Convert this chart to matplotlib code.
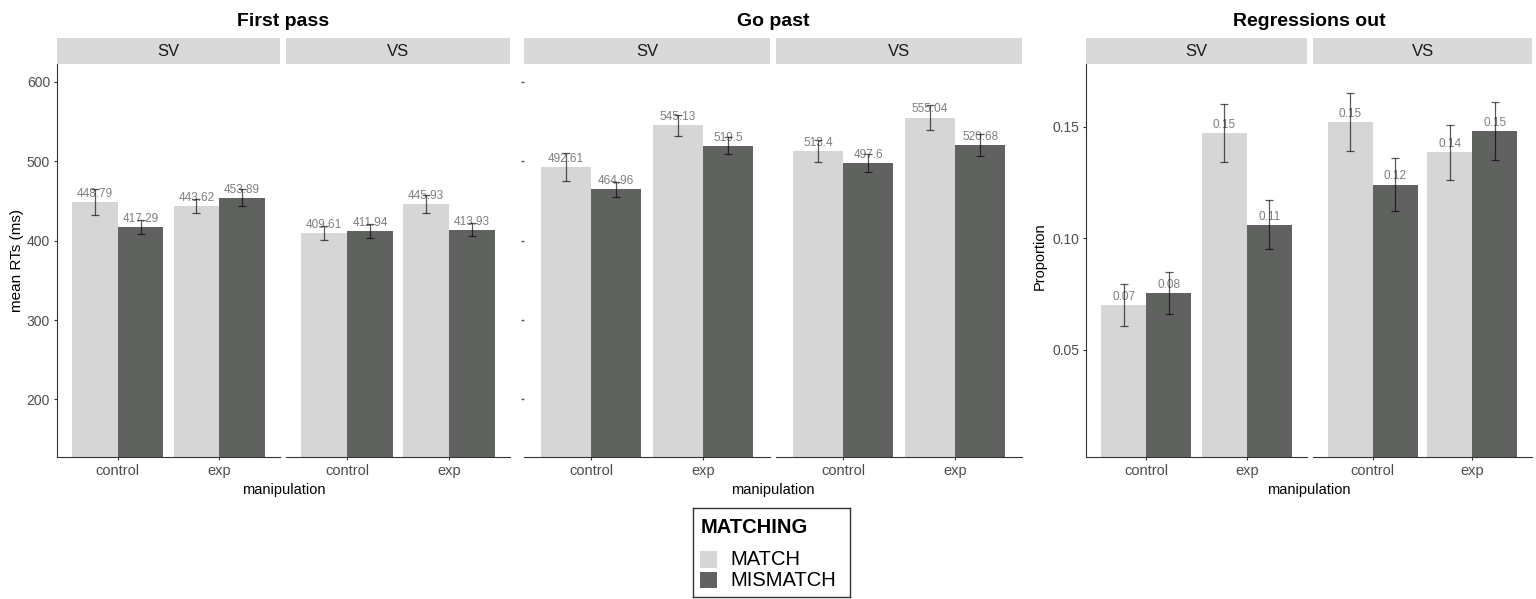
import matplotlib
matplotlib.use("Agg")
import matplotlib.pyplot as plt
from matplotlib.patches import Rectangle

plt.rcParams['font.family'] = ['Liberation Sans', 'DejaVu Sans']

manipulation = ['control', 'exp']
orders = ['SV', 'VS']
matching = ['MATCH', 'MISMATCH']

# means per order: [control, exp]
fp_match = {'SV': [448.79, 443.62], 'VS': [409.61, 445.93]}
fp_mismatch = {'SV': [417.29, 453.89], 'VS': [411.94, 413.93]}
fp_match_se = {'SV': [16.3, 9.0], 'VS': [9.0, 11.5]}
fp_mismatch_se = {'SV': [8.3, 10.7], 'VS': [8.8, 8.5]}

gp_match = {'SV': [492.61, 545.13], 'VS': [513.4, 555.04]}
gp_mismatch = {'SV': [464.96, 519.5], 'VS': [497.6, 520.68]}
gp_match_se = {'SV': [17.4, 13.0], 'VS': [13.8, 16.0]}
gp_mismatch_se = {'SV': [9.4, 10.5], 'VS': [11.5, 14.0]}

ro_match = {'SV': [0.0702, 0.147], 'VS': [0.152, 0.1384]}
ro_mismatch = {'SV': [0.0754, 0.106], 'VS': [0.124, 0.148]}
ro_match_se = {'SV': [0.0094, 0.0129], 'VS': [0.013, 0.0124]}
ro_mismatch_se = {'SV': [0.0095, 0.011], 'VS': [0.012, 0.0129]}

col_match = '#d6d6d6'
col_mismatch = '#606260'
axis_col = '#333333'
tick_text = '#4d4d4d'

W, H = 1536, 599
fig = plt.figure(figsize=(W / 100, H / 100), dpi=100)


def px_rect(x0, x1, y0, y1):
    return [x0 / W, 1 - y1 / H, (x1 - x0) / W, (y1 - y0) / H]


def draw_panel(x0, x1, order, match, mismatch, match_se, mismatch_se,
               ylim, yticks, ylabels, spine, fmt):
    ax = fig.add_axes(px_rect(x0, x1, 64, 457))
    xs = range(len(manipulation))
    w = 0.45
    for vals, ses, col, off in [(match[order], match_se[order], col_match, -w / 2),
                                (mismatch[order], mismatch_se[order], col_mismatch, w / 2)]:
        pos = [x + off for x in xs]
        ax.bar(pos, vals, width=w, color=col, zorder=1)
        ax.errorbar(pos, vals, yerr=ses, fmt='none', ecolor=(0, 0, 0, 0.65),
                    elinewidth=0.9, capsize=3.2, capthick=0.9, zorder=3)
        for p, v in zip(pos, vals):
            ax.annotate(fmt(v), (p, v), xytext=(0, 1.5), textcoords='offset points',
                        ha='center', va='bottom', fontsize=8.5, color='#7f7f7f', zorder=2)
    ax.set_xlim(-0.6, 1.6)
    ax.set_ylim(*ylim)
    ax.set_xticks(list(xs))
    ax.set_xticklabels(manipulation, fontsize=10.5, color=tick_text)
    ax.tick_params(axis='x', length=2.5, width=0.8, color=axis_col, pad=2.5)
    for s in ['top', 'right']:
        ax.spines[s].set_visible(False)
    ax.spines['bottom'].set_color(axis_col)
    ax.spines['left'].set_color(axis_col)
    ax.spines['left'].set_visible(spine == 'full')
    if spine == 'full':
        ax.set_yticks(yticks)
        ax.set_yticklabels(ylabels, fontsize=10, color=tick_text)
        ax.tick_params(axis='y', length=2.5, width=0.8, color=axis_col, pad=2.5)
    elif spine == 'ticks':
        ax.set_yticks(yticks)
        ax.set_yticklabels([])
        ax.tick_params(axis='y', length=2, width=1, color='#555555', pad=1)
    else:
        ax.set_yticks([])
    # strip
    sax = fig.add_axes(px_rect(x0, x1, 38, 64))
    sax.set_facecolor('#d9d9d9')
    sax.set_xticks([])
    sax.set_yticks([])
    for s in sax.spines.values():
        s.set_visible(False)
    sax.text(0.5, 0.5, order, ha='center', va='center', fontsize=12,
             color='#1a1a1a', transform=sax.transAxes)
    return ax


rt_lim = (127.5, 622.5)
rt_ticks = [200, 300, 400, 500, 600]
rt_labels = [str(t) for t in rt_ticks]
pr_lim = (0.002, 0.178)
pr_ticks = [0.05, 0.10, 0.15]
pr_labels = ['0.05', '0.10', '0.15']

fmt_rt = lambda v: ('%.2f' % v).rstrip('0').rstrip('.')
fmt_pr = lambda v: '%.2f' % v

groups = [
    ('First pass', [(57, 280), (286, 510)], fp_match, fp_mismatch, fp_match_se, fp_mismatch_se,
     rt_lim, rt_ticks, rt_labels, ['full', 'none'], fmt_rt),
    ('Go past', [(524, 770), (776, 1022)], gp_match, gp_mismatch, gp_match_se, gp_mismatch_se,
     rt_lim, rt_ticks, rt_labels, ['ticks', 'none'], fmt_rt),
    ('Regressions out', [(1086, 1307), (1313, 1532)], ro_match, ro_mismatch, ro_match_se, ro_mismatch_se,
     pr_lim, pr_ticks, pr_labels, ['full', 'none'], fmt_pr),
]

for title, spans, m, mm, mse, mmse, lim, ticks, labels, spines, fmt in groups:
    for (x0, x1), order, sp in zip(spans, orders, spines):
        draw_panel(x0, x1, order, m, mm, mse, mmse, lim, ticks, labels, sp, fmt)
    cx = (spans[0][0] + spans[1][1]) / 2
    fig.text(cx / W, 1 - 21 / H, title, ha='center', va='center',
             fontsize=14, fontweight='bold')
    fig.text(cx / W, 1 - 490 / H, 'manipulation', ha='center', va='center', fontsize=10.5)

fig.text(17 / W, 1 - 260 / H, 'mean RTs (ms)', rotation=90, ha='center', va='center', fontsize=11)
fig.text(1040 / W, 1 - 256 / H, 'Proportion', rotation=90, ha='center', va='center', fontsize=10.5)

# legend box, drawn in its own pixel-unit axes
lx0, lx1, ly0, ly1 = 693, 850, 508, 597
lax = fig.add_axes(px_rect(lx0, lx1, ly0, ly1))
lax.set_xlim(0, lx1 - lx0)
lax.set_ylim(ly1 - ly0, 0)
lax.set_xticks([])
lax.set_yticks([])
for s in lax.spines.values():
    s.set_color('#333333')
    s.set_linewidth(1.0)
lax.text(7.5, 19.5, 'MATCHING', ha='left', va='center', fontsize=14.5, fontweight='bold')
for i, (lab, col) in enumerate(zip(matching, [col_match, col_mismatch])):
    top = 43 + i * 20.7
    lax.add_patch(Rectangle((7, top), 16.7, 16.7, facecolor=col, edgecolor='none'))
    lax.text(37, top + 8.6, lab, ha='left', va='center', fontsize=14.5)

fig.savefig('out.png', dpi=100)
